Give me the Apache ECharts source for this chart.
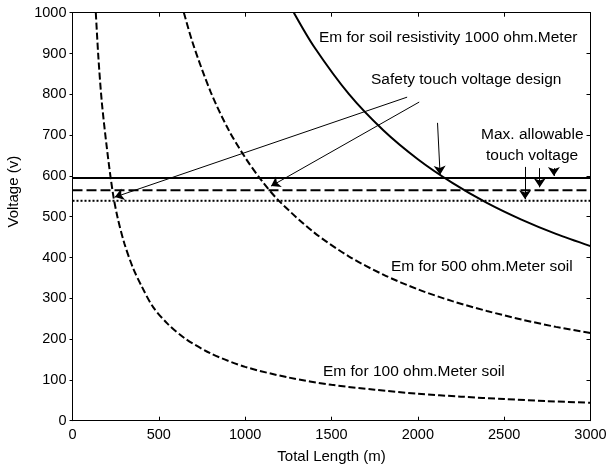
<!DOCTYPE html>
<html>
<head>
<meta charset="utf-8">
<script src="https://cdn.jsdelivr.net/npm/echarts@6/dist/echarts.min.js"></script>
<style>html,body{margin:0;padding:0;background:#fff}#c{width:611px;height:470px}</style>
</head>
<body>
<div id="c"></div>
<script>
// Em curves: [total length (m), voltage (v)]
var em1000 = [[1282,1000],[1400,916],[1600,801],[1800,712],[2000,641],[2200,583],[2400,534],[2600,493],[2800,458],[3000,428]];
var em500 = [[645,1000],[700,921],[800,806],[900,716],[1000,645],[1100,586],[1200,537],[1400,461],[1600,403],[1800,358],[2000,322],[2200,293],[2400,269],[2600,248],[2800,230],[3000,215]];
var em100 = [[135,1000],[150,890],[170,780],[200,665],[233,560],[260,500],[300,435],[350,375],[400,330],[466,279],[550,238],[650,202],[800,165],[1000,132],[1250,106],[1500,88],[1750,76],[2000,66],[2250,59],[2500,53],[2750,48],[3000,44]];
// horizontal touch-voltage levels
var levelSolid = 595;
var levelDashed = 565;
var levelDotted = 539;
var xRange = [0, 3000];
// annotation arrows [from, to] in data units
var arrows = [
  [[1938,793],[245,548]],
  [[2008,781],[1150,575]],
  [[2114,730],[2129,603]],
  [[2621,622],[2621,543]],
  [[2706,619],[2706,572]],
  [[2788,619],[2788,600]]
];
var xTicks = [0,500,1000,1500,2000,2500,3000];
var yTicks = [0,100,200,300,400,500,600,700,800,900,1000];

var FONT = 'Liberation Sans, Arial, sans-serif';
var chart = echarts.init(document.getElementById('c'), null, {renderer:'canvas'});
function hline(v){ return [[xRange[0], v],[xRange[1], v]]; }
function plain(v){ return String(v); }
var curveStyle = function(type, w){ return {color:'#000', width:w, type:type}; };
var lineCommon = {show:true, onZero:false, lineStyle:{color:'#000', width:1}};
var option = {
  backgroundColor:'#fff',
  animation:false,
  grid:{left:72.5, right:20.5, top:12.7, bottom:49.3, containLabel:false, outerBoundsMode:'none'},
  xAxis:[
    {type:'value', min:xTicks[0], max:xTicks[xTicks.length-1], interval:500, position:'bottom', splitLine:{show:false},
      axisLine:lineCommon,
      name:'Total Length (m)', nameLocation:'middle', nameGap:29,
      nameTextStyle:{color:'#000', fontFamily:FONT, fontSize:15},
      axisTick:{show:true, inside:true, length:4, lineStyle:{color:'#000'}},
      axisLabel:{color:'#000', fontFamily:FONT, fontSize:14.5, margin:7, formatter:plain}},
    {type:'value', min:xTicks[0], max:xTicks[xTicks.length-1], interval:500, position:'top', splitLine:{show:false},
      axisLine:lineCommon,
      axisTick:{show:true, inside:true, length:4, lineStyle:{color:'#000'}},
      axisLabel:{show:false}}
  ],
  yAxis:[
    {type:'value', min:yTicks[0], max:yTicks[yTicks.length-1], interval:100, position:'left', splitLine:{show:false},
      axisLine:lineCommon,
      name:'Voltage (v)', nameLocation:'middle', nameGap:51, nameRotate:90,
      nameTextStyle:{color:'#000', fontFamily:FONT, fontSize:15, padding:[0,0,0,50]},
      axisTick:{show:true, inside:false, length:3, lineStyle:{color:'#000'}},
      axisLabel:{color:'#000', fontFamily:FONT, fontSize:14.5, margin:6, formatter:plain}},
    {type:'value', min:yTicks[0], max:yTicks[yTicks.length-1], interval:100, position:'right', splitLine:{show:false},
      axisLine:lineCommon,
      axisTick:{show:true, inside:true, length:4, lineStyle:{color:'#000'}},
      axisLabel:{show:false}}
  ],
  series:[
    {type:'line', data:em1000, showSymbol:false, symbol:'none', smooth:0.3, clip:true, lineStyle:curveStyle('solid',2)},
    {type:'line', data:em500, showSymbol:false, symbol:'none', smooth:0.3, clip:true, lineStyle:curveStyle([7,3],2)},
    {type:'line', data:em100, showSymbol:false, symbol:'none', smooth:0.3, clip:true, lineStyle:curveStyle([7,3],2)},
    {type:'line', data:hline(levelSolid), symbol:'none', lineStyle:curveStyle('solid',2)},
    {type:'line', data:hline(levelDashed), symbol:'none', lineStyle:curveStyle([10,4],2)},
    {type:'line', data:hline(levelDotted), symbol:'none', lineStyle:curveStyle([2,2],2)},
    {type:'lines', coordinateSystem:'cartesian2d', symbol:['none','arrow'], symbolSize:[0,9],
      lineStyle:{color:'#000', width:1, opacity:1},
      data: arrows.map(function(a){ return {coords:a}; })}
  ],
  graphic:[
    {type:'text', left:319, top:30, style:{text:'Em for soil resistivity 1000 ohm.Meter', font:'15.5px '+FONT, fill:'#000'}},
    {type:'text', left:371, top:72, style:{text:'Safety touch voltage design', font:'15.5px '+FONT, fill:'#000'}},
    {type:'text', left:481, top:127, style:{text:'Max. allowable', font:'15.5px '+FONT, fill:'#000'}},
    {type:'text', left:486, top:148, style:{text:'touch voltage', font:'15.5px '+FONT, fill:'#000'}},
    {type:'text', left:391, top:259, style:{text:'Em for 500 ohm.Meter soil', font:'15.5px '+FONT, fill:'#000'}},
    {type:'text', left:323, top:364, style:{text:'Em for 100 ohm.Meter soil', font:'15.5px '+FONT, fill:'#000'}}
  ]
};
chart.setOption(option);
</script>
</body>
</html>
